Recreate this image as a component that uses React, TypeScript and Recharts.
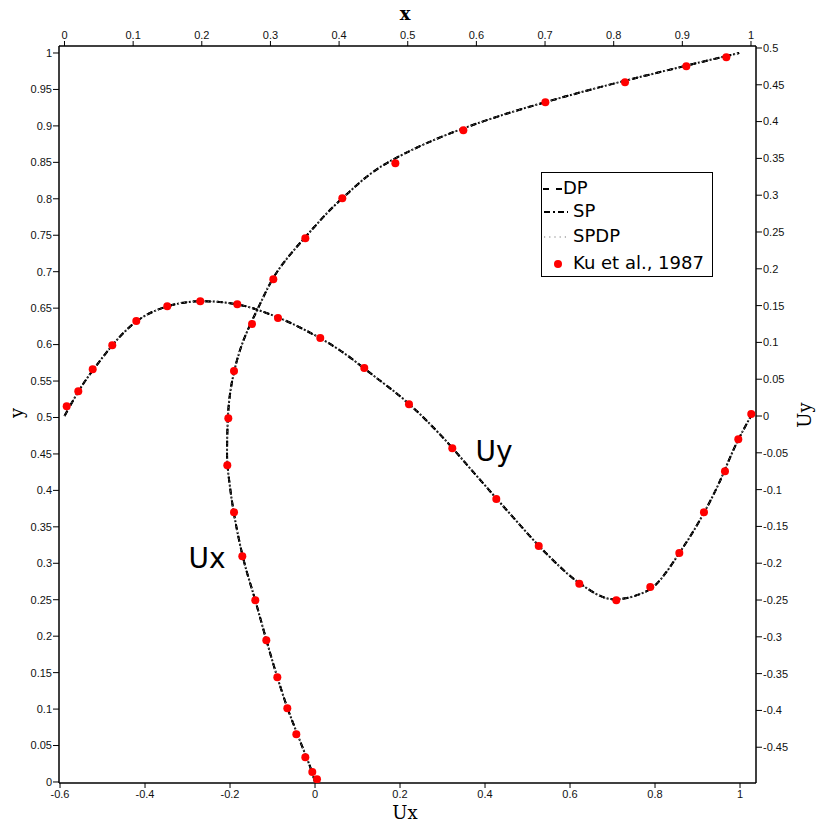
import { ComposedChart, Line, XAxis, YAxis, Legend } from 'recharts'

// tick values of the four axes
const uxTicks = [-0.6, -0.4, -0.2, 0, 0.2, 0.4, 0.6, 0.8, 1]
const xTicks = [0, 0.1, 0.2, 0.3, 0.4, 0.5, 0.6, 0.7, 0.8, 0.9, 1]
const yTicks = [0, 0.05, 0.1, 0.15, 0.2, 0.25, 0.3, 0.35, 0.4, 0.45, 0.5, 0.55, 0.6, 0.65, 0.7, 0.75, 0.8, 0.85, 0.9, 0.95, 1]
const uyTicks = [-0.45, -0.4, -0.35, -0.3, -0.25, -0.2, -0.15, -0.1, -0.05, 0, 0.05, 0.1, 0.15, 0.2, 0.25, 0.3, 0.35, 0.4, 0.45, 0.5]

// simulated profiles (DP, SP and SPDP lie on top of each other)
const lineY = [0, 0.02, 0.05, 0.1, 0.15, 0.2, 0.25, 0.3, 0.35, 0.4, 0.45, 0.5, 0.55, 0.6, 0.65, 0.7, 0.75, 0.8, 0.85, 0.9, 0.95, 0.98, 1]
const lineUx = [0, -0.011, -0.031, -0.064, -0.092, -0.117, -0.141, -0.166, -0.185, -0.199, -0.207, -0.205, -0.195, -0.172, -0.134, -0.089, -0.019, 0.063, 0.172, 0.365, 0.65, 0.855, 0.998]
const lineX = [0, 0.02, 0.05, 0.1, 0.15, 0.2, 0.25, 0.3, 0.35, 0.4, 0.45, 0.5, 0.55, 0.6, 0.65, 0.7, 0.75, 0.8, 0.85, 0.9, 0.95, 0.98, 1]
const lineUy = [0, 0.033, 0.073, 0.125, 0.149, 0.156, 0.152, 0.138, 0.117, 0.09, 0.055, 0.018, -0.028, -0.081, -0.134, -0.185, -0.227, -0.249, -0.237, -0.18, -0.098, -0.035, 0]

// Ku et al., 1987
const kuY = [0.0037, 0.0137, 0.0339, 0.0654, 0.1011, 0.1436, 0.1944, 0.2493, 0.3096, 0.37, 0.4344, 0.4989, 0.5638, 0.6283, 0.6896, 0.7458, 0.8007, 0.8487, 0.894, 0.9324, 0.9598, 0.9817, 0.9941]
const kuUx = [0.0047, -0.0064, -0.0228, -0.044, -0.0652, -0.0887, -0.1146, -0.1405, -0.1711, -0.1906, -0.2064, -0.204, -0.1906, -0.1482, -0.0981, -0.0228, 0.0642, 0.189, 0.349, 0.542, 0.7294, 0.8737, 0.9678]
const kuX = [0.0032, 0.0201, 0.0411, 0.0696, 0.1046, 0.1497, 0.1978, 0.2517, 0.311, 0.3726, 0.4367, 0.5018, 0.5649, 0.629, 0.6908, 0.7499, 0.8038, 0.8533, 0.8956, 0.9315, 0.9621, 0.9815, 1.0004]
const kuUy = [0.0132, 0.0336, 0.0635, 0.0961, 0.129, 0.149, 0.1558, 0.1518, 0.1332, 0.106, 0.0652, 0.0159, -0.0439, -0.1128, -0.1766, -0.2279, -0.2504, -0.2323, -0.1861, -0.1308, -0.0751, -0.0317, 0.0027]

const methods = ['DP', 'SP', 'SPDP']
const refName = 'Ku et al., 1987'

const uxLine = lineY.map((y, i) => ({ ux: lineUx[i], y }))
const uyLine = lineX.map((x, i) => ({ x, uy: lineUy[i] }))
const uxRef = kuY.map((y, i) => ({ ux: kuUx[i], y }))
const uyRef = kuX.map((x, i) => ({ x, uy: kuUy[i] }))

const dash: Record<string, { dash: string; color: string; width: number }> = {
  DP: { dash: '6 6', color: '#000', width: 2 },
  SP: { dash: '6 2 2 2', color: '#000', width: 2 },
  SPDP: { dash: '1 2', color: '#777', width: 1 },
}

const tickStyle = { fontSize: 11, fill: '#111', fontFamily: 'Liberation Sans' }
const axisLine = { stroke: '#000', strokeWidth: 1.5 }
const tickLine = { stroke: '#000' }

function LegendBox() {
  const rowTop = [4, 27, 52, 79]
  return (
    <div
      style={{
        position: 'relative',
        width: 170,
        height: 103,
        border: '1px solid #000',
        background: '#fff',
        fontFamily: 'DejaVu Sans',
        fontSize: 18,
        color: '#000',
      }}
    >
      {methods.map((m, i) => (
        <div key={m} style={{ position: 'absolute', top: rowTop[i], left: 0, height: 22, lineHeight: '22px', whiteSpace: 'nowrap' }}>
          <svg width={30} height={22} style={{ position: 'absolute', left: 0, top: 0 }}>
            <line
              x1={m === 'DP' ? 1 : 2}
              x2={m === 'DP' ? 20 : 26}
              y1={12}
              y2={12}
              stroke={dash[m].color}
              strokeWidth={m === 'SPDP' ? 1.2 : 2}
              strokeDasharray={m === 'DP' ? '6 7' : m === 'SP' ? '6 3 2 3' : '1.2 4'}
            />
          </svg>
          <span style={{ position: 'absolute', left: m === 'DP' ? 21 : 31 }}>{m}</span>
        </div>
      ))}
      <div style={{ position: 'absolute', top: rowTop[3], left: 0, height: 22, lineHeight: '22px', whiteSpace: 'nowrap' }}>
        <svg width={30} height={22} style={{ position: 'absolute', left: 0, top: 0 }}>
          <circle cx={16} cy={12} r={4} fill="#ff0000" />
        </svg>
        <span style={{ position: 'absolute', left: 31 }}>{refName}</span>
      </div>
    </div>
  )
}

const overlay = (text: string, left: number, top: number, style: Record<string, any>) => (
  <div
    style={{
      position: 'absolute',
      left,
      top,
      transform: `translate(-50%, -50%)${style.rotate ? ' rotate(-90deg)' : ''}`,
      whiteSpace: 'nowrap',
      lineHeight: 1,
      ...style,
    }}
  >
    {text}
  </div>
)

export default function App() {
  const serif = { fontFamily: 'DejaVu Serif', fontSize: 18, color: '#000' }
  const big = { fontFamily: 'DejaVu Sans', fontSize: 28, color: '#000' }
  return (
    <div style={{ position: 'absolute', left: 0, top: 0, width: 820, height: 830, background: '#fff' }}>
      <ComposedChart width={820} height={830} margin={{ top: 16, right: 14, bottom: 17, left: 9 }}>
        <XAxis
          xAxisId="ux"
          type="number"
          dataKey="ux"
          orientation="bottom"
          domain={[-0.6024, 1.0376]}
          ticks={uxTicks}
          interval={0}
          allowDataOverflow
          height={30}
          tick={tickStyle}
          tickSize={5}
          tickMargin={2}
          axisLine={axisLine}
          tickLine={tickLine}
        />
        <XAxis
          xAxisId="x"
          type="number"
          dataKey="x"
          orientation="top"
          domain={[-0.008, 1.0073]}
          ticks={xTicks}
          interval={0}
          allowDataOverflow
          height={30}
          tick={tickStyle}
          tickSize={5}
          tickMargin={2}
          axisLine={axisLine}
          tickLine={tickLine}
        />
        <YAxis
          yAxisId="y"
          type="number"
          orientation="left"
          domain={[-0.0014, 1.0096]}
          ticks={yTicks}
          interval={0}
          allowDataOverflow
          width={50}
          tick={tickStyle}
          tickSize={6}
          tickMargin={1}
          axisLine={axisLine}
          tickLine={tickLine}
        />
        <YAxis
          yAxisId="uy"
          type="number"
          orientation="right"
          domain={[-0.4986, 0.5027]}
          ticks={uyTicks}
          interval={0}
          allowDataOverflow
          width={50}
          tick={tickStyle}
          tickSize={6}
          tickMargin={1}
          axisLine={axisLine}
          tickLine={tickLine}
        />
        <Line
          data={uxRef}
          xAxisId="ux"
          yAxisId="y"
          dataKey="y"
          stroke="none"
          dot={{ r: 4, fill: '#ff0000', stroke: 'none' }}
          activeDot={false}
          isAnimationActive={false}
          name={refName}
        />
        <Line
          data={uyRef}
          xAxisId="x"
          yAxisId="uy"
          dataKey="uy"
          stroke="none"
          dot={{ r: 4, fill: '#ff0000', stroke: 'none' }}
          activeDot={false}
          isAnimationActive={false}
          name={refName}
        />
        {methods.map((m) => (
          <Line
            key={'ux-' + m}
            data={uxLine}
            xAxisId="ux"
            yAxisId="y"
            dataKey="y"
            type="monotoneY"
            stroke={dash[m].color}
            strokeWidth={dash[m].width}
            strokeDasharray={dash[m].dash}
            dot={false}
            activeDot={false}
            isAnimationActive={false}
            name={m}
          />
        ))}
        {methods.map((m) => (
          <Line
            key={'uy-' + m}
            data={uyLine}
            xAxisId="x"
            yAxisId="uy"
            dataKey="uy"
            type="monotoneX"
            stroke={dash[m].color}
            strokeWidth={dash[m].width}
            strokeDasharray={dash[m].dash}
            dot={false}
            activeDot={false}
            isAnimationActive={false}
            name={m}
          />
        ))}
        <Legend
          layout="vertical"
          align="center"
          verticalAlign="middle"
          content={() => <LegendBox />}
          wrapperStyle={{ left: 541, top: 172, width: 172, height: 105 }}
        />
      </ComposedChart>
      {overlay('x', 405, 14, { ...serif, fontWeight: 'bold' })}
      {overlay('Ux', 405, 813, serif)}
      {overlay('y', 17, 413, { ...serif, rotate: true })}
      {overlay('Uy', 805, 415, { ...serif, rotate: true })}
      {overlay('Ux', 207, 559, big)}
      {overlay('Uy', 494, 452, big)}
    </div>
  )
}
